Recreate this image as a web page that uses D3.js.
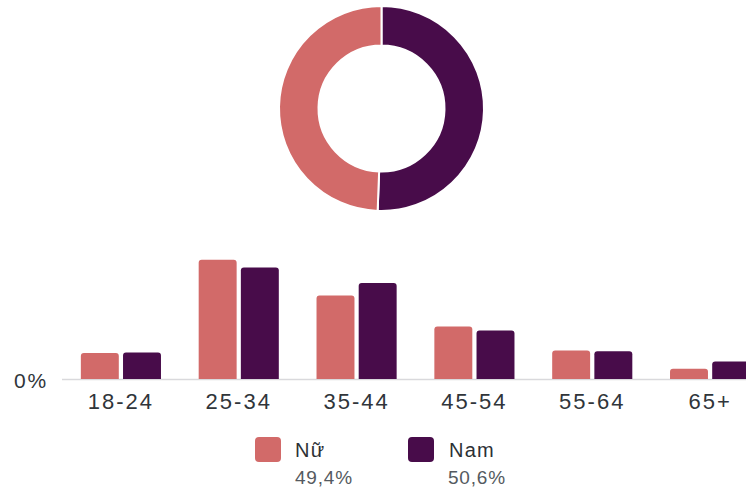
<!DOCTYPE html>
<html>
<head>
<meta charset="utf-8">
<script src="https://cdn.jsdelivr.net/npm/d3@7"></script>
<style>
  html, body { margin: 0; padding: 0; background: #fff; }
  svg { display: block; font-family: "Liberation Sans", Arial, sans-serif; }
</style>
</head>
<body>
<svg id="chart" width="746" height="490"></svg>
<script>
// ---- data ----
const ageGroups = ["18-24", "25-34", "35-44", "45-54", "55-64", "65+"];
const seriesNames = ["Nữ", "Nam"];
const femaleValues = [4.0, 18.4, 12.9, 8.1, 4.4, 1.6];
const maleValues = [4.1, 17.2, 14.8, 7.5, 4.3, 2.7];
const genderShares = [50.6, 49.4]; // Nam, Nữ (drawn clockwise from top)
const genderShareNames = ["Nam", "Nữ"];
const legendLabels = ["49,4%", "50,6%"];
const yTickLabels = ["0%"];
const colors = { "Nữ": "#d26a69", "Nam": "#480c4a" };

const svg = d3.select("#chart");

// ---- donut ----
const pie = d3.pie().sort(null).value(d => d.v);
const arc = d3.arc().innerRadius(63).outerRadius(102.5);
const donutData = genderShares.map((v, i) => ({ v, name: genderShareNames[i] }));
const donut = svg.append("g").attr("transform", "translate(381.5,108.5)");
donut.selectAll("path").data(pie(donutData)).join("path")
  .attr("d", arc)
  .attr("fill", d => colors[d.data.name])
  .attr("stroke", "#fff")
  .attr("stroke-width", 2);

// ---- bars ----
const baseY = 379;
const x0 = d3.scaleBand().domain(ageGroups).range([62, 769]).paddingInner(0.32).paddingOuter(0.16);
const x1 = d3.scaleBand().domain(seriesNames).range([0, x0.bandwidth()]).padding(0.1).paddingOuter(0);
const y = d3.scaleLinear().domain([0, 20]).range([baseY, baseY - 129.6]);

const rows = ageGroups.map((g, i) => ({ g, vals: [
  { s: "Nữ", v: femaleValues[i] }, { s: "Nam", v: maleValues[i] }
]}));

function topRounded(x, yTop, w, h, r) {
  r = Math.min(r, h, w / 2);
  return `M${x},${yTop + h}V${yTop + r}Q${x},${yTop} ${x + r},${yTop}H${x + w - r}Q${x + w},${yTop} ${x + w},${yTop + r}V${yTop + h}Z`;
}

// axis baseline
svg.append("line")
  .attr("x1", 62).attr("x2", 746)
  .attr("y1", baseY + 0.5).attr("y2", baseY + 0.5)
  .attr("stroke", "#d9d9dc").attr("stroke-width", 1.5);

const groups = svg.append("g").selectAll("g").data(rows).join("g")
  .attr("transform", d => `translate(${x0(d.g)},0)`);
groups.selectAll("path").data(d => d.vals).join("path")
  .attr("fill", d => colors[d.s])
  .attr("d", d => topRounded(x1(d.s), y(d.v), x1.bandwidth(), baseY - y(d.v), 3));

// x axis labels
const xAxis = d3.axisBottom(x0).tickSize(0).tickPadding(0);
const xg = svg.append("g").attr("transform", `translate(0,${baseY})`).call(xAxis);
xg.select(".domain").remove();
xg.selectAll("text")
  .attr("y", 29.5).attr("dy", null)
  .attr("font-size", 22)
  .attr("letter-spacing", 2)
  .attr("fill", "#30353a")
  .attr("font-family", "Liberation Sans, Arial, sans-serif");

// y tick label
svg.append("text")
  .data(yTickLabels)
  .attr("x", 14).attr("y", y(0) + 8.5)
  .attr("font-size", 21)
  .attr("letter-spacing", 1.7)
  .attr("fill", "#30353a")
  .text(d => d);

// ---- legend ----
const legendX = [255, 408];
const lg = svg.append("g").selectAll("g").data(seriesNames).join("g")
  .attr("transform", (d, i) => `translate(${legendX[i]},0)`);
lg.append("rect")
  .attr("x", 0).attr("y", 437).attr("width", 26).attr("height", 25).attr("rx", 4)
  .attr("fill", d => colors[d]);
lg.append("text")
  .attr("x", (d, i) => i === 0 ? 40 : 41).attr("y", 457)
  .attr("font-size", 20).attr("letter-spacing", 1.2)
  .attr("fill", "#2c3035")
  .text(d => d);
lg.append("text")
  .attr("x", 40).attr("y", 484)
  .attr("font-size", 19).attr("letter-spacing", 0.8)
  .attr("fill", "#555a60")
  .text((d, i) => legendLabels[i]);
</script>
</body>
</html>
